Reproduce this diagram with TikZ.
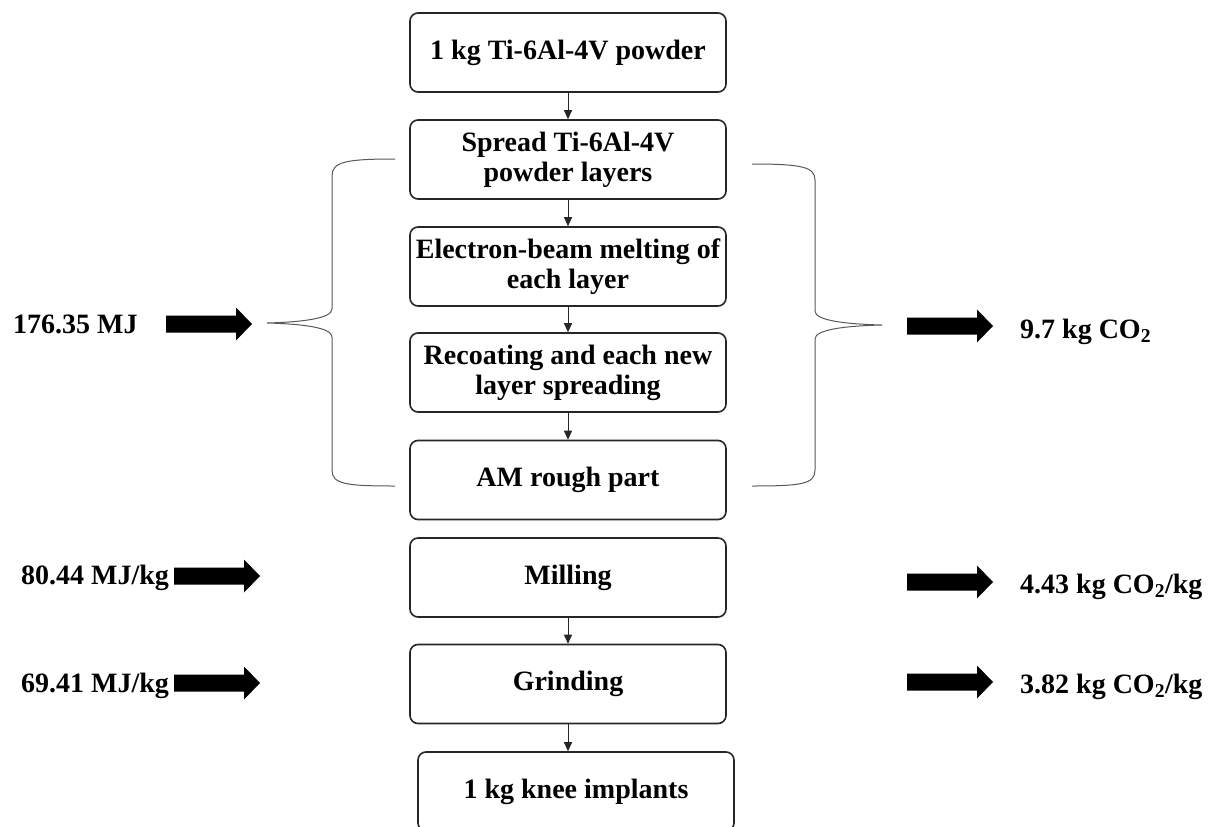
\documentclass[tikz,border=0pt]{standalone}
\usepackage{fontspec}
\setmainfont{Liberation Serif}
\usetikzlibrary{arrows.meta}
\begin{document}
\begin{tikzpicture}[x=1pt,y=-1pt,
  stage/.style={draw=black!85, line width=1.6pt, rounded corners=8pt, minimum width=316pt, minimum height=79pt, inner sep=2pt, align=center, font=\fontsize{28}{30}\selectfont\bfseries},
  lbl/.style={inner sep=0pt, font=\fontsize{28}{30}\selectfont\bfseries},
  flow/.style={draw=black!85, line width=0.9pt, -{Triangle[length=9pt,width=8pt]}},
  brace/.style={draw=black!65, line width=1pt},
  bigarrow/.pic={\fill (0,-8.5) -- (70,-8.5) -- (70,-16.5) -- (86,0) -- (70,16.5) -- (70,8.5) -- (0,8.5) -- cycle;}]
\clip (0,0) rectangle (1210,827);
\fill[white] (0,0) rectangle (1210,827);

% process boxes
\node[stage] (b1) at (568,52.5) {1 kg Ti-6Al-4V powder};
\node[stage] (b2) at (568,159.5) {Spread Ti-6Al-4V\\powder layers};
\node[stage] (b3) at (568,266.5) {Electron-beam melting of\\each layer};
\node[stage] (b4) at (568,372.5) {Recoating and each new\\layer spreading};
\node[stage] (b5) at (568,480) {AM rough part};
\node[stage] (b6) at (568,577.5) {Milling};
\node[stage] (b7) at (568,684) {Grinding};
\node[stage] (b8) at (576,791.5) {1 kg knee implants};

% connectors
\draw[flow] (b1) -- (b2);
\draw[flow] (b2) -- (b3);
\draw[flow] (b3) -- (b4);
\draw[flow] (b4) -- (b5);
\draw[flow] (b6) -- (b7);
\draw[flow] (b7.south) -- (b7.south |- b8.north);

% braces
\draw[brace] (395,159) .. controls (345,159) and (332,162) .. (332,176) -- (332,309)
  .. controls (332,318) and (305,322) .. (267,323)
  .. controls (305,324) and (332,328) .. (332,337) -- (332,470)
  .. controls (332,484) and (345,486) .. (395,486);
\draw[brace] (752,164) .. controls (802,164) and (815,167) .. (815,180) -- (815,311)
  .. controls (815,320) and (842,324) .. (882,325)
  .. controls (842,326) and (815,330) .. (815,339) -- (815,470)
  .. controls (815,484) and (802,486) .. (752,486);

% block arrows
\pic at (166,324) {bigarrow};
\pic at (174,576) {bigarrow};
\pic at (174,683) {bigarrow};
\pic at (907,326) {bigarrow};
\pic at (907,582) {bigarrow};
\pic at (907,682) {bigarrow};

% labels
\node[lbl, anchor=base west] (e0) at (13,333) {176.35 MJ};
\node[lbl, anchor=base west] (e1) at (21,584) {80.44 MJ/kg};
\node[lbl, anchor=base west] (e2) at (21,692) {69.41 MJ/kg};
\node[lbl, anchor=base west] (c0) at (1020,338) {9.7 kg CO\textsubscript{2}};
\node[lbl, anchor=base west] (c1) at (1020,593) {4.43 kg CO\textsubscript{2}/kg};
\node[lbl, anchor=base west] (c2) at (1020,693) {3.82 kg CO\textsubscript{2}/kg};
\end{tikzpicture}
\end{document}
